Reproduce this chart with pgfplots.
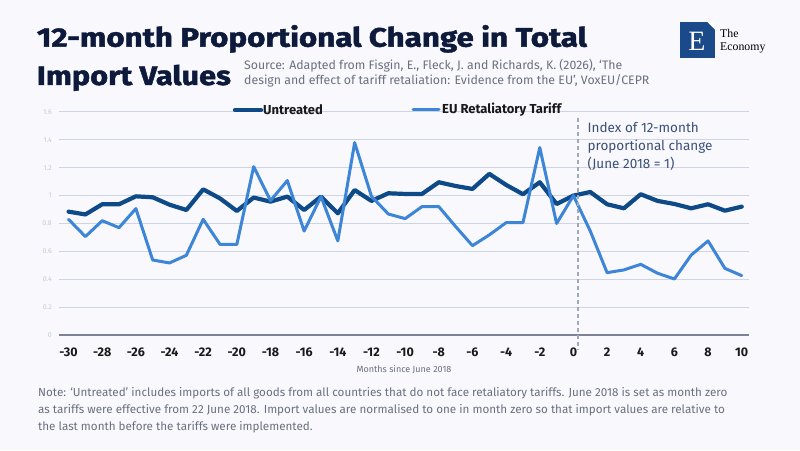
\documentclass[border=0pt]{standalone}
\usepackage{pgfplots}
\pgfplotsset{compat=1.18}
\usepackage{fontspec}
\setmainfont{Fira Sans}
\newfontfamily\logofont{Liberation Serif}
\newfontfamily\titlefont[FakeBold=1.6]{Fira Sans Bold}
\definecolor{bgc}{HTML}{F8F8FD}
\definecolor{titlec}{HTML}{0E1A3C}
\definecolor{srcc}{HTML}{6B7080}
\definecolor{darkl}{HTML}{0E4A87}
\definecolor{lightl}{HTML}{3D85D6}
\definecolor{gridc}{HTML}{CDD5E4}
\definecolor{axisc}{HTML}{7D8296}
\definecolor{ytc}{HTML}{C5CBD8}
\definecolor{annc}{HTML}{3B5078}
\definecolor{dashc}{HTML}{A0A8BC}
\definecolor{logoc}{HTML}{1A4A8A}
\pgfplotstableread{
x y
-30 0.885
-29 0.865
-28 0.938
-27 0.938
-26 0.995
-25 0.988
-24 0.935
-23 0.897
-22 1.045
-21 0.98
-20 0.89
-19 0.986
-18 0.957
-17 0.993
-16 0.897
-15 0.993
-14 0.873
-13 1.04
-12 0.962
-11 1.017
-10 1.012
-9 1.012
-8 1.096
-7 1.069
-6 1.048
-5 1.156
-4 1.077
-3 1.01
-2 1.096
-1 0.94
0 1.0
1 1.026
2 0.938
3 0.909
4 1.01
5 0.962
6 0.94
7 0.909
8 0.938
9 0.892
10 0.921
}\untreated
\pgfplotstableread{
x y
-30 0.83
-29 0.706
-28 0.82
-27 0.77
-26 0.907
-25 0.538
-24 0.517
-23 0.572
-22 0.83
-21 0.65
-20 0.65
-19 1.208
-18 0.964
-17 1.108
-16 0.746
-15 0.993
-14 0.675
-13 1.38
-12 0.995
-11 0.868
-10 0.835
-9 0.921
-8 0.921
-7 0.778
-6 0.641
-5 0.718
-4 0.806
-3 0.806
-2 1.345
-1 0.80
0 1.0
1 0.746
2 0.447
3 0.467
4 0.507
5 0.443
6 0.402
7 0.574
8 0.675
9 0.478
10 0.426
}\eutariff
\begin{document}
\begin{tikzpicture}[x=1pt,y=1pt]
\fill[bgc] (0,0) rectangle (800,450);
\useasboundingbox (0,0) rectangle (800,450);
% title
\node[anchor=base west,inner sep=0,text=titlec] at (36.7,403.3) {\resizebox{550pt}{\height}{\fontsize{26.7}{30}\selectfont\titlefont 12-month Proportional Change in Total}};
\node[anchor=base west,inner sep=0,text=titlec] at (36.7,365) {\resizebox{194pt}{\height}{\fontsize{26.7}{30}\selectfont\titlefont Import Values}};
\node[anchor=base west,inner sep=0,text=srcc,font=\fontsize{12.3}{14}\selectfont] at (244,380) {Source: Adapted from Fisgin, E., Fleck, J. and Richards, K. (2026), ‘The};
\node[anchor=base west,inner sep=0,text=srcc,font=\fontsize{12.3}{14}\selectfont] at (244,365) {design and effect of tariff retaliation: Evidence from the EU’, VoxEU/CEPR};
% logo
\fill[logoc] (680,392.3) rectangle (715,428.3);
\fill[white] (707,428.3) -- (715,428.3) -- (715,420.3) -- cycle;
\node[text=white,font=\fontsize{28}{30}\selectfont\logofont] at (697,408.5) {E};
\node[anchor=base west,inner sep=0,text=black,font=\fontsize{11.8}{12}\selectfont\logofont] at (720,412) {The};
\node[anchor=base west,inner sep=0,text=black,font=\fontsize{11.8}{12}\selectfont\logofont] at (720,399.5) {Economy};
\begin{axis}[
  at={(59.3pt,115pt)}, anchor=south west,
  scale only axis, width=690pt, height=223pt,
  xmin=-30.55, xmax=10.45, ymin=0, ymax=1.6,
  clip=false,
  axis line style={draw=none},
  major tick length=0pt,
  ymajorgrids, grid style={draw=gridc, line width=1pt},
  ytick={0,0.2,0.4,0.6,0.8,1,1.2,1.4,1.6},
  yticklabels={0,0.2,0.4,0.6,0.8,1,1.2,1.4,1.6},
  yticklabel style={font=\fontsize{7}{8}\selectfont, text=ytc, xshift=-4pt},
  xtick={-30,-28,...,10},
  xticklabel style={font=\fontsize{12.5}{14}\selectfont\bfseries, text=black!90, yshift=-9pt},
  /pgf/number format/assume math mode=true,
]
\draw[axisc, line width=1.2pt] (axis cs:-30.55,0) -- (axis cs:10.45,0);
\addplot[darkl, line width=4.2pt, line join=round, line cap=round] table[x=x,y=y] {\untreated};
\addplot[lightl, line width=3pt, line join=round, line cap=round] table[x=x,y=y] {\eutariff};
\draw[dashc, line width=1.5pt, dash pattern=on 4pt off 3pt] (axis cs:0.26,1.56) -- (axis cs:0.26,-0.11);
\end{axis}
% legend
\draw[darkl, line width=4.2pt, line cap=round] (235,340) -- (261,340);
\node[anchor=west,inner sep=0,font=\fontsize{13}{14}\selectfont\bfseries,text=black!90] at (263,340) {Untreated};
\draw[lightl, line width=3pt, line cap=round] (413,340) -- (439,340);
\node[anchor=west,inner sep=0,font=\fontsize{13}{14}\selectfont\bfseries,text=black!90] at (442,340) {EU Retaliatory Tariff};
% annotation
\node[anchor=base west,inner sep=0,text=annc,font=\fontsize{13.5}{16}\selectfont] at (587.5,317) {Index of 12-month};
\node[anchor=base west,inner sep=0,text=annc,font=\fontsize{13.5}{16}\selectfont] at (587.5,299.3) {proportional change};
\node[anchor=base west,inner sep=0,text=annc,font=\fontsize{13.5}{16}\selectfont] at (587.5,281.7) {(June 2018 = 1)};
% x label
\node[text=srcc,font=\fontsize{9}{10}\selectfont] at (404,80) {Months since June 2018};
% note
\node[anchor=base west,inner sep=0,text=srcc,font=\fontsize{11.65}{14}\selectfont] at (38,54) {Note: ‘Untreated’ includes imports of all goods from all countries that do not face retaliatory tariffs. June 2018 is set as month zero};
\node[anchor=base west,inner sep=0,text=srcc,font=\fontsize{11.65}{14}\selectfont] at (38,37) {as tariffs were effective from 22 June 2018. Import values are normalised to one in month zero so that import values are relative to};
\node[anchor=base west,inner sep=0,text=srcc,font=\fontsize{11.65}{14}\selectfont] at (38,20) {the last month before the tariffs were implemented.};
\end{tikzpicture}
\end{document}
